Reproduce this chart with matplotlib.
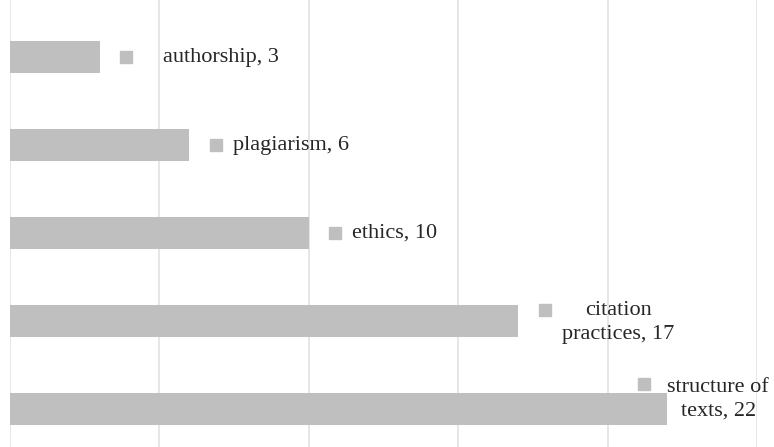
import matplotlib.pyplot as plt
from matplotlib.transforms import offset_copy

# Topics and counts (bottom to top)
topics = ["structure of\ntexts", "citation\npractices", "ethics", "plagiarism", "authorship"]
counts = [22, 17, 10, 6, 3]

BAR_COLOR = "#bfbfc0"
GRID_COLOR = "#e4e4e4"

# Label placement in pixels relative to the bar end: (marker dx, marker dy, text dx, text dy, ha)
label_layout = [
    (-23, 25.5, 51, 10, "center"),
    (27.5, 11, 100.5, -1, "center"),
    (26.5, 0, 43, 0, "left"),
    (26.5, 0, 44, 0, "left"),
    (26, 0, 63, 0, "left"),
]

plt.rcParams["font.family"] = ["Liberation Serif", "DejaVu Serif"]

fig = plt.figure(figsize=(7.74, 4.47), dpi=100)
ax = fig.add_axes([10 / 774, 0, (757 - 10) / 774, 1])

ypos = list(range(len(topics)))
ax.barh(ypos, counts, height=0.36, color=BAR_COLOR, zorder=2)

for y, n, name, (mdx, mdy, tdx, tdy, ha) in zip(ypos, counts, topics, label_layout):
    mtr = offset_copy(ax.transData, fig=fig, x=mdx, y=mdy, units="dots")
    ax.plot([n], [y], marker="s", ms=8, color=BAR_COLOR, ls="none",
            transform=mtr, clip_on=False, zorder=3)
    ttr = offset_copy(ax.transData, fig=fig, x=tdx, y=tdy, units="dots")
    ax.text(n, y, f"{name}, {n}", transform=ttr, ha=ha, va="center",
            multialignment="center", fontsize=16, color="#262626",
            linespacing=1.35, clip_on=False, zorder=3)

ax.set_xlim(0, 25)
ax.set_ylim(-0.43, 4.65)
ax.set_xticks(range(0, 26, 5))
ax.xaxis.grid(True, color=GRID_COLOR, lw=1.3)
ax.set_axisbelow(True)
ax.tick_params(left=False, bottom=False, labelleft=False, labelbottom=False)
for s in ax.spines.values():
    s.set_visible(False)

fig.savefig("out.png", dpi=100)
